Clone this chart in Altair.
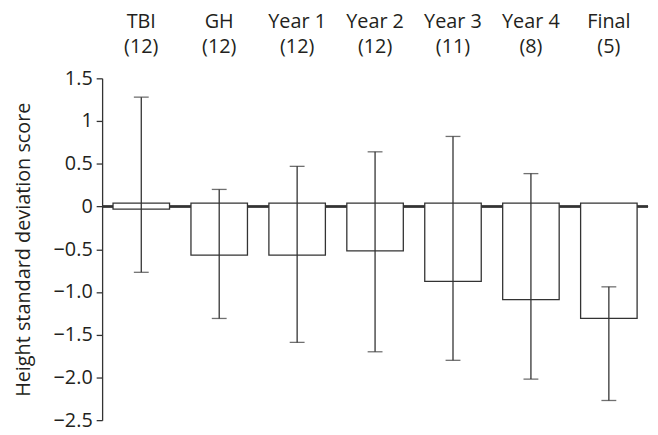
import altair as alt
import pandas as pd

categories = ["TBI", "GH", "Year 1", "Year 2", "Year 3", "Year 4", "Final"]
counts = [12, 12, 12, 12, 11, 8, 5]
means = [-0.03, -0.57, -0.57, -0.52, -0.875, -1.09, -1.31]
upper = [1.28, 0.20, 0.47, 0.64, 0.82, 0.385, -0.94]
lower = [-0.77, -1.31, -1.59, -1.70, -1.80, -2.02, -2.27]
bar_base = 0.04

labels = [f"{c}\n({n})" for c, n in zip(categories, counts)]
df = pd.DataFrame({"label": labels, "mean": means, "hi": upper, "lo": lower, "base": [bar_base] * len(labels)})

FONT = "Open Sans"
COLOR = "#333333"
TEXT = "#231f20"
FS = 20

x = alt.X("label:N", sort=labels,
          scale=alt.Scale(paddingInner=0.275, paddingOuter=0.14),
          axis=alt.Axis(orient="top", title=None, domain=False, ticks=False, labelAngle=0,
                        labelExpr="split(datum.label, '\\n')", labelFontSize=FS,
                        labelLineHeight=25, labelPadding=47, labelColor=TEXT, labelFont=FONT))
yscale = alt.Scale(domain=[-2.5, 1.5], nice=False, zero=False)
yaxis = alt.Axis(title="Height standard deviation score", values=[1.5, 1, 0.5, 0, -0.5, -1, -1.5, -2, -2.5],
                 labelExpr="datum.value == 0 ? '0' : (datum.value > 0 ? (datum.value == 1 ? '1' : format(datum.value, '.1f')) : '−' + format(-datum.value, '.1f'))",
                 grid=False, tickSize=6, domainColor=COLOR, tickColor=COLOR, labelColor=TEXT, titleColor=TEXT,
                 domainWidth=1.3, tickWidth=1.3,
                 labelFontSize=FS, titleFontSize=FS, labelFont=FONT, titleFont=FONT, titleFontWeight="normal",
                 labelPadding=4, titlePadding=20)

base = alt.Chart(df)

zero = base.mark_rule(color=COLOR, strokeWidth=1.3).encode(y=alt.datum(0, scale=yscale, axis=yaxis))
bars = base.mark_bar(fill="white", stroke=COLOR, strokeWidth=1.3).encode(
    x=x, y=alt.Y("mean:Q", scale=yscale, axis=yaxis), y2="base:Q")
whisk = base.mark_rule(color=COLOR, strokeWidth=1.3).encode(x=x, y=alt.Y("lo:Q", scale=yscale), y2="hi:Q")
cap_hi = base.mark_tick(color=COLOR, thickness=1.3, size=15).encode(x=x, y=alt.Y("hi:Q", scale=yscale))
cap_lo = base.mark_tick(color=COLOR, thickness=1.3, size=15).encode(x=x, y=alt.Y("lo:Q", scale=yscale))

chart = alt.layer(zero, bars, whisk, cap_hi, cap_lo).properties(
    width=551, height=345,
    autosize=alt.AutoSizeParams(type="none"),
    padding={"left": 95, "top": 69, "right": 2, "bottom": 12},
).configure_view(stroke=None)
chart.save("out.html", embed_options={"renderer": "svg", "actions": False})
